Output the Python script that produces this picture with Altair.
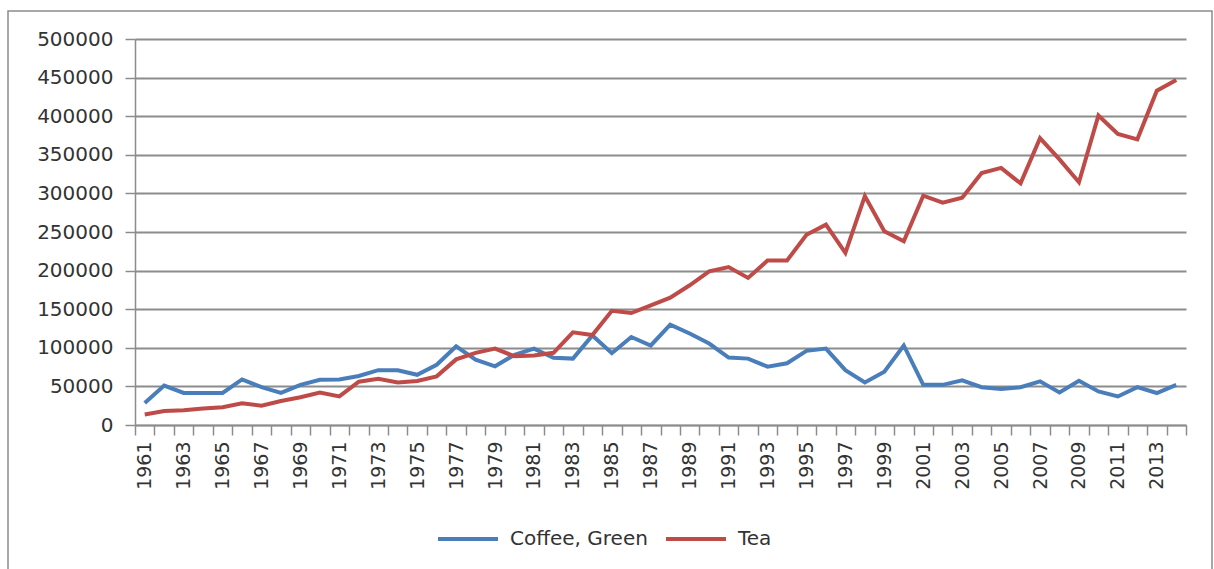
import altair as alt
import pandas as pd

# Annual quantities, 1961-2014
years = list(range(1961, 2015))

coffee_green = [
    28600, 51000, 41500, 41500, 41500, 59000, 49000, 41500, 52000, 58500,
    59000, 63500, 71000, 71000, 65000, 78000, 102000, 84600, 76000, 91000,
    99000, 87000, 86000, 116000, 93000, 114000, 103000, 130000, 118500, 105500,
    87300, 86000, 75500, 80000, 96000, 99000, 71000, 55000, 69000, 103000,
    52000, 52000, 57800, 49000, 46500, 49000, 56500, 42200, 57300, 43500,
    37000, 49000, 41400, 52000,
]

tea = [
    13700, 18000, 19000, 21500, 23000, 28000, 25000, 31000, 36000, 42000,
    37000, 56000, 60000, 55000, 57000, 63000, 85000, 93500, 99000, 89000,
    90000, 93500, 120000, 116500, 148000, 145000, 155000, 165000, 181000, 199000,
    204500, 190500, 213000, 213000, 246500, 259500, 223000, 296500, 251000, 238000,
    297000, 288000, 294500, 326500, 333000, 313000, 371500, 344000, 314500, 401000,
    377000, 370000, 433000, 447000,
]

series_names = ["Coffee, Green", "Tea"]
series_colors = ["#4a7ebb", "#be4b48"]
y_ticks = list(range(0, 500001, 50000))
label_years = years[::2]
boundaries = [y - 0.5 for y in years] + [years[-1] + 0.5]

df = pd.concat([
    pd.DataFrame({"year": years, "value": coffee_green, "series": series_names[0]}),
    pd.DataFrame({"year": years, "value": tea, "series": series_names[1]}),
])

grey = "#8c8c8c"
text_col = "#333333"
x_scale = alt.Scale(domain=[years[0] - 0.5, years[-1] + 0.5], nice=False, zero=False)

lines = alt.Chart(df).mark_line(strokeWidth=4).encode(
    x=alt.X(
        "year:Q",
        scale=x_scale,
        axis=alt.Axis(
            title=None,
            orient="bottom",
            values=label_years,
            format="d",
            labelAngle=270,
            labelOverlap=False,
            labelFlush=False,
            labelPadding=6,
            labelFontSize=19,
            labelColor=text_col,
            tickSize=10,
            tickOpacity=0,
            domainColor=grey,
            domainWidth=1.5,
            grid=False,
        ),
    ),
    y=alt.Y(
        "value:Q",
        scale=alt.Scale(domain=[0, 500000], nice=False),
        axis=alt.Axis(
            title=None,
            values=y_ticks,
            format="d",
            labelFontSize=20,
            labelColor=text_col,
            labelPadding=12,
            tickSize=10,
            tickColor=grey,
            tickWidth=1.5,
            domainColor=grey,
            domainWidth=1.5,
            grid=True,
            gridColor=grey,
            gridWidth=1.8,
        ),
    ),
    color=alt.Color(
        "series:N",
        scale=alt.Scale(domain=series_names, range=series_colors),
        legend=alt.Legend(
            title=None,
            orient="none",
            direction="horizontal",
            legendX=301,
            legendY=468,
            symbolType="stroke",
            symbolSize=3600,
            symbolStrokeWidth=4,
            labelFontSize=20,
            labelColor=text_col,
            labelOffset=10,
            columnPadding=10,
        ),
    ),
)

# Tick marks between the year categories
tick_layer = alt.Chart(df).mark_point(opacity=0).encode(
    x=alt.X(
        "year:Q",
        scale=x_scale,
        axis=alt.Axis(
            title=None,
            orient="bottom",
            values=boundaries,
            labels=False,
            tickSize=10,
            tickColor=grey,
            tickWidth=1.5,
            domain=False,
            grid=False,
        ),
    ),
)

# Outer chart frame
frame = alt.Chart(alt.Data(values=[{}])).mark_rect(
    fill="transparent", stroke=grey, strokeWidth=1.5
).encode(
    x=alt.value(-127), x2=alt.value(1077), y=alt.value(-28), y2=alt.value(540)
)

chart = alt.layer(frame, lines, tick_layer).resolve_axis(x="independent").properties(
    width=1051,
    height=386,
    autosize=alt.AutoSizeParams(type="none"),
    padding={"left": 135, "top": 39, "right": 28, "bottom": 144},
    background="white",
).configure(font="DejaVu Sans").configure_view(strokeWidth=0)

chart.save("out.html", embed_options={"renderer": "svg", "actions": False})
